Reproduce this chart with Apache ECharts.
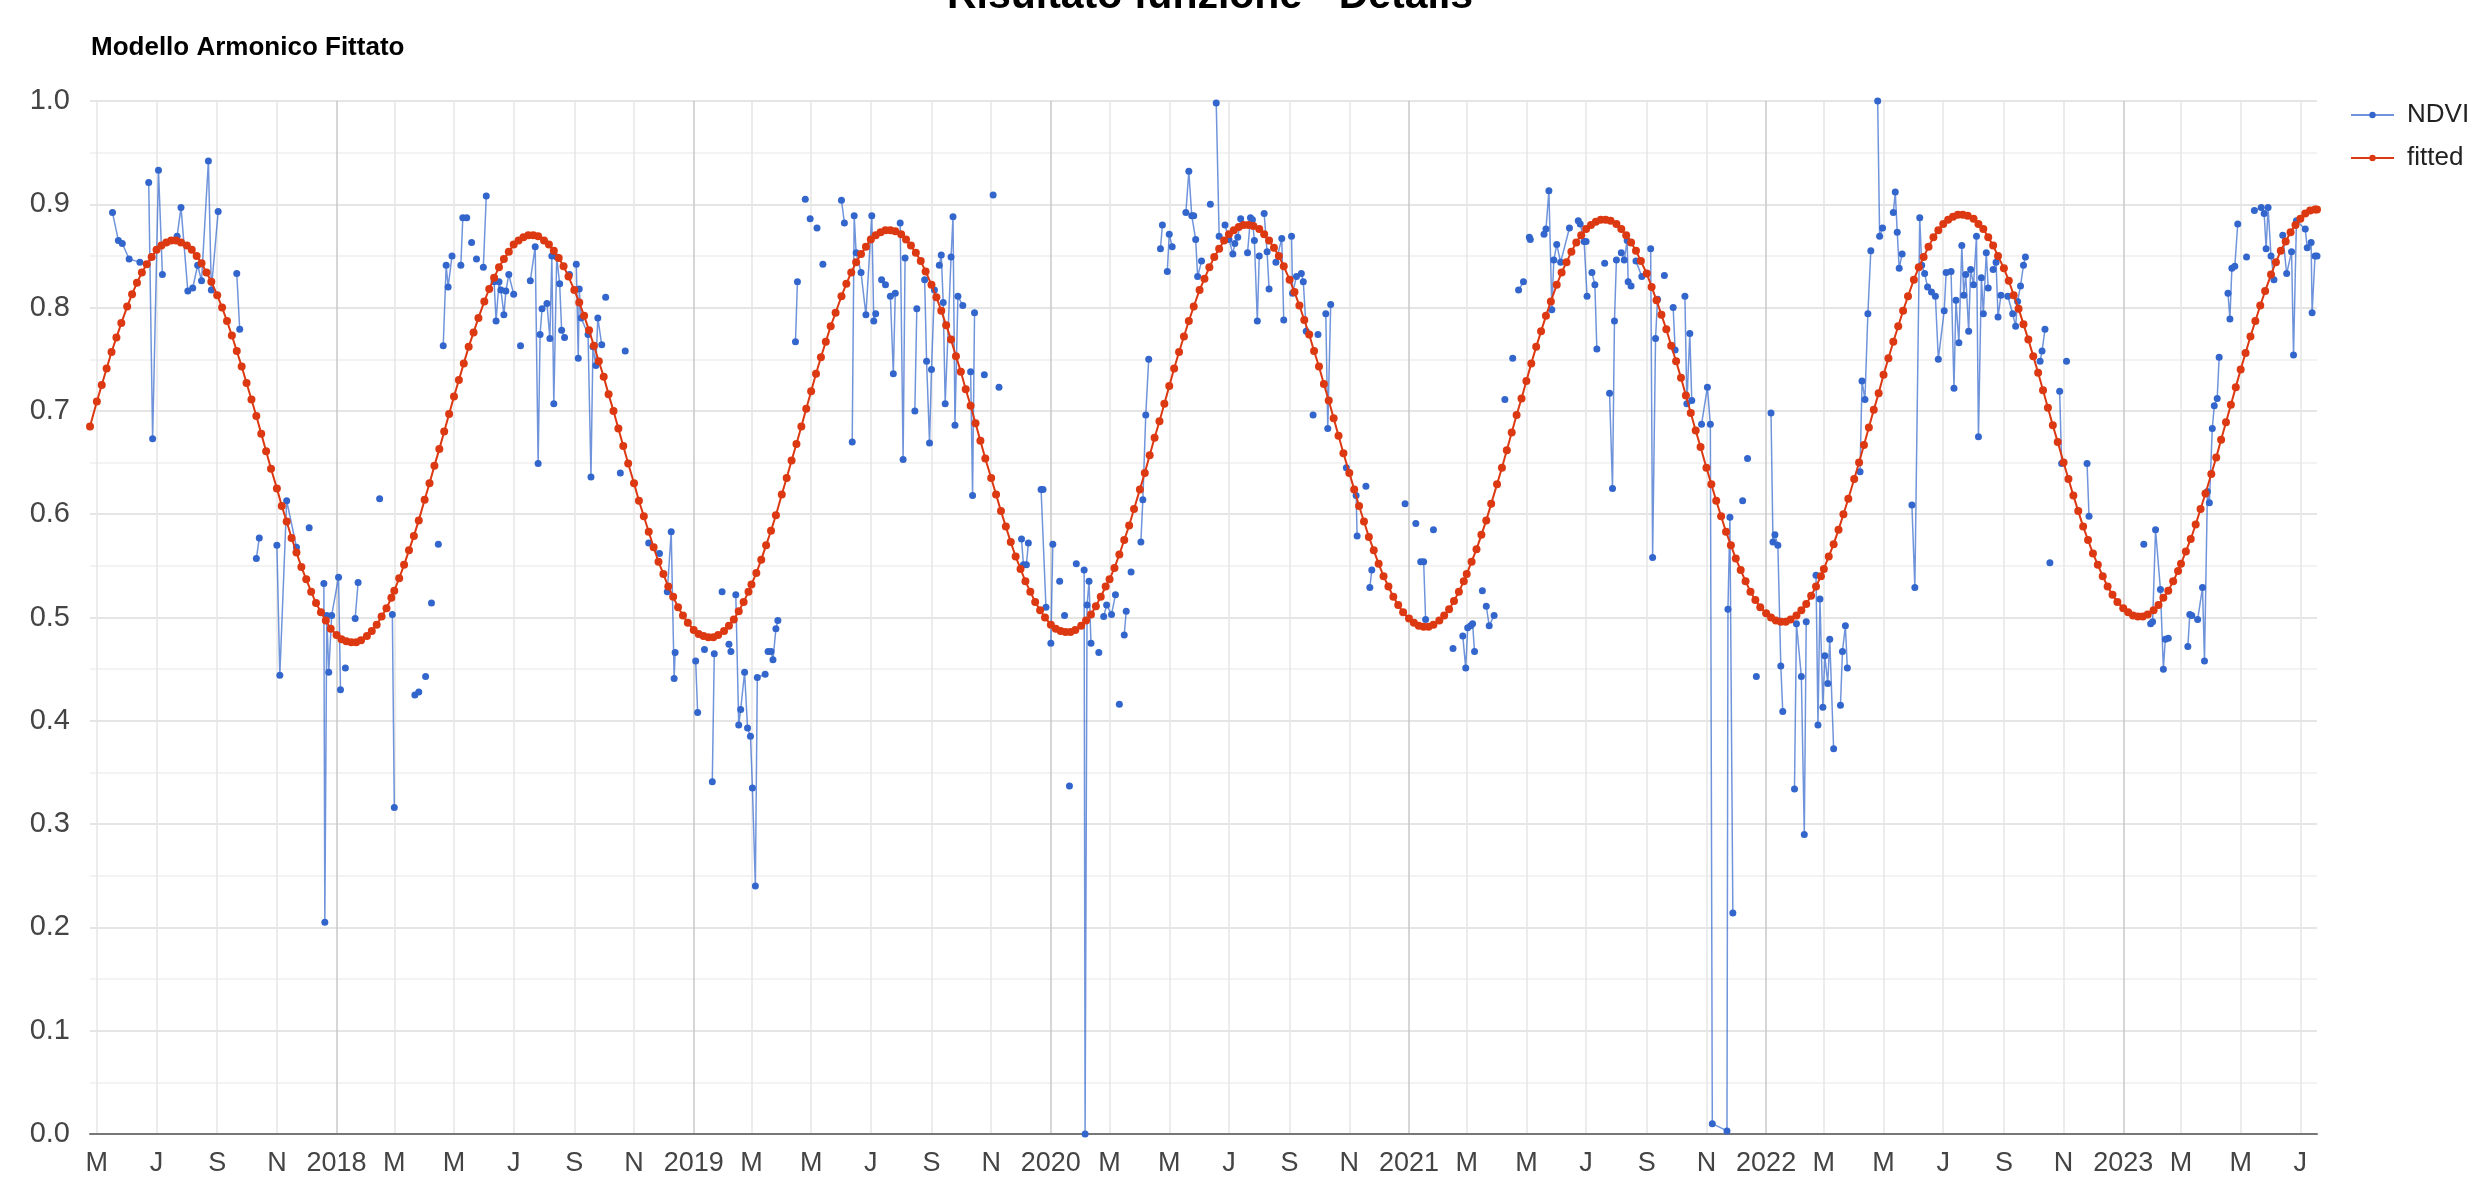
<!DOCTYPE html>
<html>
<head>
<meta charset="utf-8">
<title>Modello Armonico Fittato</title>
<script src="https://cdn.jsdelivr.net/npm/echarts@6/dist/echarts.min.js"></script>
<style>
  html, body { margin: 0; padding: 0; background: #fff; }
  #chart { width: 2468px; height: 1178px; }
</style>
</head>
<body>
<div id="chart"></div>
<script>
// tick positions along the time axis (every two months) and their labels
var tickDates = [
  '2017-05-01','2017-07-01','2017-09-01','2017-11-01',
  '2018-01-01','2018-03-01','2018-05-01','2018-07-01','2018-09-01','2018-11-01',
  '2019-01-01','2019-03-01','2019-05-01','2019-07-01','2019-09-01','2019-11-01',
  '2020-01-01','2020-03-01','2020-05-01','2020-07-01','2020-09-01','2020-11-01',
  '2021-01-01','2021-03-01','2021-05-01','2021-07-01','2021-09-01','2021-11-01',
  '2022-01-01','2022-03-01','2022-05-01','2022-07-01','2022-09-01','2022-11-01',
  '2023-01-01','2023-03-01','2023-05-01','2023-07-01'
];
var tickLabels = [
  'M','J','S','N',
  '2018','M','M','J','S','N',
  '2019','M','M','J','S','N',
  '2020','M','M','J','S','N',
  '2021','M','M','J','S','N',
  '2022','M','M','J','S','N',
  '2023','M','M','J'
];

// NDVI observations; null = gap (cloudy image, line breaks)
var ndviPoints = [
  ['2017-05-17',0.892],['2017-05-23',0.865],['2017-05-27',0.862],['2017-06-03',0.847],['2017-06-14',0.844], null,
  ['2017-06-23',0.921],['2017-06-27',0.673],['2017-07-03',0.933],['2017-07-07',0.832], null,
  ['2017-07-22',0.869],['2017-07-26',0.897],['2017-08-02',0.816],['2017-08-07',0.819],['2017-08-12',0.841],['2017-08-16',0.826],['2017-08-23',0.942],['2017-08-26',0.817],['2017-09-02',0.893], null,
  ['2017-09-21',0.833],['2017-09-24',0.779], null,
  ['2017-10-11',0.557],['2017-10-14',0.577], null,
  ['2017-11-01',0.570],['2017-11-04',0.444],['2017-11-11',0.613],['2017-11-21',0.568], null,
  ['2017-12-04',0.587], null,
  ['2017-12-19',0.533],['2017-12-20',0.205],['2017-12-22',0.502],['2017-12-24',0.447],['2017-12-27',0.502],['2018-01-03',0.539],['2018-01-05',0.430], null,
  ['2018-01-10',0.451], null,
  ['2018-01-20',0.499],['2018-01-23',0.534], null,
  ['2018-02-14',0.615], null,
  ['2018-02-27',0.503],['2018-03-01',0.316], null,
  ['2018-03-22',0.425],['2018-03-26',0.428], null,
  ['2018-04-02',0.443], null,
  ['2018-04-08',0.514], null,
  ['2018-04-15',0.571], null,
  ['2018-04-20',0.763],['2018-04-23',0.841],['2018-04-25',0.820],['2018-04-29',0.850], null,
  ['2018-05-08',0.841],['2018-05-10',0.887],['2018-05-14',0.887], null,
  ['2018-05-19',0.863], null,
  ['2018-05-24',0.847], null,
  ['2018-05-31',0.839],['2018-06-03',0.908], null,
  ['2018-06-11',0.825],['2018-06-13',0.787],['2018-06-16',0.825],['2018-06-18',0.817],['2018-06-21',0.793],['2018-06-23',0.816],['2018-06-26',0.832],['2018-07-01',0.813], null,
  ['2018-07-08',0.763], null,
  ['2018-07-18',0.826],['2018-07-23',0.859],['2018-07-26',0.649],['2018-07-28',0.774],['2018-07-30',0.799],['2018-08-04',0.804],['2018-08-07',0.770],['2018-08-09',0.850],['2018-08-11',0.707],['2018-08-14',0.849],['2018-08-17',0.823],['2018-08-19',0.778],['2018-08-22',0.771], null,
  ['2018-08-27',0.832], null,
  ['2018-09-03',0.842],['2018-09-05',0.751],['2018-09-06',0.818],['2018-09-08',0.790],['2018-09-15',0.774],['2018-09-18',0.636],['2018-09-20',0.762],['2018-09-23',0.744],['2018-09-25',0.790],['2018-09-29',0.764], null,
  ['2018-10-03',0.810], null,
  ['2018-10-18',0.640], null,
  ['2018-10-23',0.758], null,
  ['2018-11-16',0.572],['2018-11-27',0.562], null,
  ['2018-12-05',0.525],['2018-12-09',0.583],['2018-12-12',0.441],['2018-12-13',0.466], null,
  ['2019-01-03',0.458],['2019-01-05',0.408], null,
  ['2019-01-12',0.469], null,
  ['2019-01-20',0.341],['2019-01-22',0.465], null,
  ['2019-01-30',0.525], null,
  ['2019-02-06',0.474],['2019-02-08',0.467], null,
  ['2019-02-13',0.522],['2019-02-16',0.396],['2019-02-18',0.411],['2019-02-22',0.447],['2019-02-25',0.393],['2019-02-28',0.385],['2019-03-02',0.335],['2019-03-05',0.240],['2019-03-07',0.442],['2019-03-15',0.445], null,
  ['2019-03-18',0.467],['2019-03-21',0.467],['2019-03-23',0.459],['2019-03-26',0.489],['2019-03-28',0.497], null,
  ['2019-04-15',0.767],['2019-04-17',0.825], null,
  ['2019-04-25',0.905], null,
  ['2019-04-30',0.886], null,
  ['2019-05-07',0.877], null,
  ['2019-05-13',0.842], null,
  ['2019-06-01',0.904],['2019-06-04',0.882], null,
  ['2019-06-12',0.670],['2019-06-14',0.889],['2019-06-16',0.853],['2019-06-21',0.834],['2019-06-26',0.793],['2019-07-02',0.889],['2019-07-04',0.787],['2019-07-06',0.794], null,
  ['2019-07-12',0.827],['2019-07-16',0.822], null,
  ['2019-07-21',0.811],['2019-07-24',0.736],['2019-07-26',0.814], null,
  ['2019-07-31',0.882],['2019-08-03',0.653],['2019-08-05',0.848], null,
  ['2019-08-15',0.700],['2019-08-17',0.799], null,
  ['2019-08-25',0.827],['2019-08-27',0.748],['2019-08-30',0.669],['2019-09-01',0.740],['2019-09-04',0.817], null,
  ['2019-09-09',0.841],['2019-09-11',0.851],['2019-09-13',0.805],['2019-09-15',0.707],['2019-09-21',0.849],['2019-09-23',0.888],['2019-09-25',0.686],['2019-09-28',0.811],['2019-10-03',0.802], null,
  ['2019-10-11',0.738],['2019-10-13',0.618],['2019-10-15',0.795], null,
  ['2019-10-25',0.735], null,
  ['2019-11-03',0.909], null,
  ['2019-11-09',0.723], null,
  ['2019-12-02',0.576],['2019-12-04',0.551],['2019-12-07',0.551],['2019-12-09',0.572], null,
  ['2019-12-22',0.624],['2019-12-24',0.624],['2019-12-27',0.510], null,
  ['2020-01-01',0.475],['2020-01-03',0.571], null,
  ['2020-01-10',0.535], null,
  ['2020-01-15',0.502], null,
  ['2020-01-20',0.337], null,
  ['2020-01-27',0.552], null,
  ['2020-02-04',0.546],['2020-02-05',0.000],['2020-02-07',0.512],['2020-02-09',0.535],['2020-02-11',0.475], null,
  ['2020-02-19',0.466], null,
  ['2020-02-24',0.501],['2020-02-27',0.512],['2020-03-03',0.503],['2020-03-07',0.522], null,
  ['2020-03-11',0.416], null,
  ['2020-03-16',0.483],['2020-03-18',0.506], null,
  ['2020-03-23',0.544], null,
  ['2020-04-02',0.573],['2020-04-04',0.614],['2020-04-07',0.696],['2020-04-10',0.750], null,
  ['2020-04-22',0.857],['2020-04-24',0.880], null,
  ['2020-04-29',0.835],['2020-05-01',0.871],['2020-05-04',0.859], null,
  ['2020-05-18',0.892],['2020-05-21',0.932],['2020-05-24',0.889],['2020-05-26',0.889],['2020-05-28',0.866],['2020-05-30',0.830],['2020-06-03',0.845], null,
  ['2020-06-12',0.900], null,
  ['2020-06-18',0.998],['2020-06-21',0.869], null,
  ['2020-06-27',0.880],['2020-07-01',0.866],['2020-07-05',0.852],['2020-07-07',0.862],['2020-07-10',0.868],['2020-07-13',0.886], null,
  ['2020-07-20',0.853],['2020-07-23',0.887],['2020-07-25',0.885],['2020-07-27',0.865],['2020-07-30',0.787],['2020-08-01',0.850], null,
  ['2020-08-06',0.891],['2020-08-09',0.854],['2020-08-11',0.818], null,
  ['2020-08-18',0.844],['2020-08-24',0.867],['2020-08-26',0.788], null,
  ['2020-09-03',0.869],['2020-09-04',0.814],['2020-09-08',0.830],['2020-09-13',0.833],['2020-09-15',0.825],['2020-09-18',0.777], null,
  ['2020-09-25',0.696], null,
  ['2020-09-30',0.774], null,
  ['2020-10-08',0.794],['2020-10-10',0.683],['2020-10-13',0.803], null,
  ['2020-10-29',0.645], null,
  ['2020-11-08',0.618],['2020-11-09',0.579], null,
  ['2020-11-18',0.627], null,
  ['2020-11-22',0.529],['2020-11-24',0.546], null,
  ['2020-12-28',0.610], null,
  ['2021-01-08',0.591], null,
  ['2021-01-13',0.554],['2021-01-16',0.554],['2021-01-18',0.498], null,
  ['2021-01-26',0.585], null,
  ['2021-02-15',0.470], null,
  ['2021-02-25',0.482],['2021-02-28',0.451],['2021-03-02',0.490],['2021-03-05',0.492],['2021-03-07',0.494],['2021-03-09',0.467], null,
  ['2021-03-17',0.526], null,
  ['2021-03-21',0.511],['2021-03-24',0.492],['2021-03-29',0.502], null,
  ['2021-04-09',0.711], null,
  ['2021-04-17',0.751], null,
  ['2021-04-23',0.817],['2021-04-28',0.825], null,
  ['2021-05-04',0.868],['2021-05-05',0.866], null,
  ['2021-05-19',0.871],['2021-05-21',0.876],['2021-05-24',0.913],['2021-05-27',0.798],['2021-05-29',0.846],['2021-06-01',0.861],['2021-06-05',0.844],['2021-06-14',0.877], null,
  ['2021-06-23',0.884],['2021-06-25',0.881],['2021-06-29',0.864],['2021-07-01',0.864],['2021-07-02',0.811], null,
  ['2021-07-07',0.834],['2021-07-10',0.822],['2021-07-12',0.760], null,
  ['2021-07-20',0.843], null,
  ['2021-07-25',0.717],['2021-07-28',0.625],['2021-07-30',0.787],['2021-08-01',0.846], null,
  ['2021-08-06',0.853],['2021-08-09',0.846],['2021-08-12',0.865],['2021-08-13',0.825],['2021-08-16',0.821], null,
  ['2021-08-21',0.845],['2021-08-27',0.830], null,
  ['2021-09-05',0.857],['2021-09-07',0.558],['2021-09-10',0.770],['2021-09-12',0.808], null,
  ['2021-09-19',0.831], null,
  ['2021-09-28',0.800],['2021-09-30',0.759], null,
  ['2021-10-10',0.811],['2021-10-12',0.707],['2021-10-15',0.775],['2021-10-17',0.710], null,
  ['2021-10-27',0.687],['2021-11-02',0.723],['2021-11-05',0.687],['2021-11-07',0.010],['2021-11-22',0.003],['2021-11-23',0.508],['2021-11-25',0.597],['2021-11-28',0.214], null,
  ['2021-12-08',0.613], null,
  ['2021-12-13',0.654], null,
  ['2021-12-22',0.443], null,
  ['2022-01-06',0.698],['2022-01-08',0.573],['2022-01-10',0.580],['2022-01-13',0.570],['2022-01-16',0.453],['2022-01-18',0.409], null,
  ['2022-01-30',0.334],['2022-02-01',0.494],['2022-02-06',0.443],['2022-02-09',0.290],['2022-02-11',0.496], null,
  ['2022-02-21',0.541],['2022-02-23',0.396],['2022-02-25',0.518],['2022-02-28',0.413],['2022-03-02',0.463],['2022-03-05',0.436],['2022-03-07',0.479],['2022-03-11',0.373], null,
  ['2022-03-18',0.415],['2022-03-20',0.467],['2022-03-23',0.492],['2022-03-25',0.451], null,
  ['2022-04-07',0.641],['2022-04-09',0.729],['2022-04-12',0.711],['2022-04-15',0.794],['2022-04-18',0.855], null,
  ['2022-04-25',1.000],['2022-04-27',0.869],['2022-04-30',0.877], null,
  ['2022-05-11',0.892],['2022-05-13',0.912],['2022-05-15',0.873],['2022-05-17',0.838],['2022-05-20',0.852], null,
  ['2022-05-30',0.609],['2022-06-02',0.529],['2022-06-07',0.887],['2022-06-09',0.841],['2022-06-12',0.833],['2022-06-15',0.820],['2022-06-19',0.815],['2022-06-23',0.811],['2022-06-26',0.750],['2022-07-02',0.797],['2022-07-04',0.834],['2022-07-09',0.835],['2022-07-12',0.722],['2022-07-14',0.807],['2022-07-17',0.766],['2022-07-20',0.860],['2022-07-22',0.812],['2022-07-24',0.832],['2022-07-27',0.777],['2022-07-29',0.837],['2022-08-01',0.822],['2022-08-04',0.869],['2022-08-06',0.675],['2022-08-09',0.829],['2022-08-11',0.794],['2022-08-14',0.853],['2022-08-16',0.819], null,
  ['2022-08-21',0.837],['2022-08-24',0.844],['2022-08-26',0.791],['2022-08-29',0.812], null,
  ['2022-09-05',0.811],['2022-09-10',0.794],['2022-09-13',0.782],['2022-09-15',0.806],['2022-09-18',0.821],['2022-09-21',0.841],['2022-09-23',0.849], null,
  ['2022-10-08',0.748],['2022-10-10',0.758],['2022-10-13',0.779], null,
  ['2022-10-18',0.553], null,
  ['2022-10-28',0.719],['2022-10-30',0.649], null,
  ['2022-11-04',0.748], null,
  ['2022-11-25',0.649],['2022-11-27',0.598], null,
  ['2023-01-22',0.571], null,
  ['2023-01-29',0.494],['2023-01-31',0.496],['2023-02-03',0.585],['2023-02-08',0.527],['2023-02-11',0.450],['2023-02-13',0.479],['2023-02-16',0.480], null,
  ['2023-03-08',0.472],['2023-03-10',0.503],['2023-03-12',0.502],['2023-03-18',0.498],['2023-03-23',0.529],['2023-03-25',0.458],['2023-03-28',0.622],['2023-03-30',0.611],['2023-04-02',0.683],['2023-04-04',0.705],['2023-04-07',0.712],['2023-04-09',0.752], null,
  ['2023-04-18',0.814],['2023-04-20',0.789],['2023-04-22',0.838],['2023-04-25',0.840],['2023-04-28',0.881], null,
  ['2023-05-07',0.849], null,
  ['2023-05-15',0.894],['2023-05-22',0.897],['2023-05-25',0.891],['2023-05-27',0.857],['2023-05-29',0.897],['2023-06-01',0.850],['2023-06-04',0.827], null,
  ['2023-06-13',0.870],['2023-06-17',0.833],['2023-06-22',0.854],['2023-06-24',0.754],['2023-06-27',0.884],['2023-07-06',0.876],['2023-07-08',0.858],['2023-07-12',0.863],['2023-07-13',0.795],['2023-07-16',0.850],['2023-07-18',0.850]
];

// fitted harmonic model: month, then values on days 1, 6, 11, 16, 21, 26
var fitDays = ['01', '06', '11', '16', '21', '26'];
var fittedRows = [
  ['2017-05',0.709,0.725,0.741,0.757,0.771,0.785],
  ['2017-06',0.801,0.813,0.824,0.834,0.842,0.849],
  ['2017-07',0.856,0.860,0.863,0.865,0.865,0.863],
  ['2017-08',0.860,0.856,0.850,0.843,0.834,0.825],
  ['2017-09',0.812,0.800,0.787,0.773,0.758,0.743],
  ['2017-10',0.727,0.711,0.695,0.678,0.661,0.644],
  ['2017-11',0.625,0.608,0.593,0.577,0.563,0.549],
  ['2017-12',0.537,0.525,0.514,0.505,0.497,0.489],
  ['2018-01',0.483,0.479,0.477,0.476,0.476,0.478],
  ['2018-02',0.482,0.487,0.493,0.501,0.509,0.519],
  ['2018-03',0.526,0.538,0.551,0.565,0.579,0.594],
  ['2018-04',0.614,0.630,0.647,0.663,0.680,0.697],
  ['2018-05',0.714,0.730,0.746,0.762,0.776,0.790],
  ['2018-06',0.806,0.818,0.829,0.839,0.847,0.854],
  ['2018-07',0.861,0.865,0.868,0.870,0.870,0.869],
  ['2018-08',0.865,0.861,0.855,0.848,0.840,0.830],
  ['2018-09',0.817,0.805,0.792,0.778,0.763,0.748],
  ['2018-10',0.733,0.716,0.700,0.683,0.666,0.649],
  ['2018-11',0.630,0.613,0.598,0.583,0.568,0.554],
  ['2018-12',0.542,0.530,0.520,0.510,0.502,0.495],
  ['2019-01',0.488,0.484,0.482,0.481,0.481,0.483],
  ['2019-02',0.487,0.492,0.498,0.506,0.515,0.525],
  ['2019-03',0.532,0.543,0.556,0.570,0.584,0.599],
  ['2019-04',0.619,0.635,0.652,0.668,0.685,0.702],
  ['2019-05',0.719,0.736,0.752,0.767,0.782,0.795],
  ['2019-06',0.811,0.823,0.834,0.844,0.852,0.859],
  ['2019-07',0.866,0.870,0.873,0.875,0.875,0.874],
  ['2019-08',0.871,0.866,0.860,0.853,0.845,0.835],
  ['2019-09',0.822,0.810,0.797,0.783,0.769,0.753],
  ['2019-10',0.738,0.721,0.705,0.688,0.671,0.654],
  ['2019-11',0.635,0.619,0.603,0.588,0.573,0.559],
  ['2019-12',0.547,0.535,0.525,0.515,0.507,0.500],
  ['2020-01',0.493,0.489,0.487,0.486,0.486,0.488],
  ['2020-02',0.492,0.497,0.503,0.511,0.520,0.530],
  ['2020-03',0.537,0.548,0.561,0.575,0.589,0.605],
  ['2020-04',0.624,0.640,0.657,0.674,0.690,0.707],
  ['2020-05',0.724,0.741,0.757,0.772,0.787,0.801],
  ['2020-06',0.817,0.828,0.839,0.849,0.857,0.865],
  ['2020-07',0.871,0.875,0.878,0.880,0.880,0.879],
  ['2020-08',0.876,0.871,0.865,0.858,0.850,0.840],
  ['2020-09',0.827,0.815,0.802,0.788,0.774,0.758],
  ['2020-10',0.743,0.726,0.710,0.693,0.676,0.659],
  ['2020-11',0.640,0.624,0.608,0.593,0.578,0.565],
  ['2020-12',0.552,0.540,0.530,0.520,0.512,0.505],
  ['2021-01',0.499,0.495,0.492,0.491,0.491,0.493],
  ['2021-02',0.497,0.502,0.508,0.516,0.525,0.535],
  ['2021-03',0.542,0.554,0.566,0.580,0.594,0.610],
  ['2021-04',0.629,0.645,0.662,0.679,0.696,0.712],
  ['2021-05',0.729,0.746,0.762,0.777,0.792,0.806],
  ['2021-06',0.822,0.834,0.844,0.854,0.863,0.870],
  ['2021-07',0.876,0.880,0.883,0.885,0.885,0.884],
  ['2021-08',0.881,0.876,0.870,0.863,0.855,0.845],
  ['2021-09',0.833,0.820,0.807,0.793,0.779,0.763],
  ['2021-10',0.748,0.732,0.715,0.698,0.681,0.665],
  ['2021-11',0.645,0.629,0.613,0.598,0.583,0.570],
  ['2021-12',0.557,0.546,0.535,0.525,0.517,0.510],
  ['2022-01',0.504,0.500,0.497,0.496,0.496,0.498],
  ['2022-02',0.502,0.507,0.513,0.521,0.530,0.540],
  ['2022-03',0.547,0.559,0.571,0.585,0.600,0.615],
  ['2022-04',0.634,0.650,0.667,0.684,0.701,0.717],
  ['2022-05',0.735,0.751,0.767,0.782,0.797,0.811],
  ['2022-06',0.827,0.839,0.849,0.859,0.868,0.875],
  ['2022-07',0.881,0.885,0.888,0.890,0.890,0.889],
  ['2022-08',0.886,0.881,0.876,0.868,0.860,0.850],
  ['2022-09',0.838,0.826,0.812,0.799,0.784,0.769],
  ['2022-10',0.753,0.737,0.720,0.703,0.686,0.670],
  ['2022-11',0.650,0.634,0.618,0.603,0.588,0.575],
  ['2022-12',0.562,0.551,0.540,0.530,0.522,0.515],
  ['2023-01',0.509,0.505,0.502,0.501,0.501,0.503],
  ['2023-02',0.507,0.512,0.519,0.526,0.535,0.545],
  ['2023-03',0.552,0.564,0.576,0.590,0.605,0.620],
  ['2023-04',0.639,0.655,0.672,0.689,0.706,0.723],
  ['2023-05',0.740,0.756,0.772,0.787,0.802,0.816],
  ['2023-06',0.832,0.844,0.855,0.864,0.873,0.880],
  ['2023-07',0.886,0.891,0.894,0.895]
];
// first and last fitted points that fall outside the day grid
var fitFirst = ['2017-04-24', 0.685];
var fitLast = ['2023-07-18', 0.895];

var xMin = '2017-04-24';
var xMax = '2023-07-18';

// ---- helpers ----
// 'YYYY-MM-DD' -> local timestamp (value axis works in ms)
function ts(s) {
  var p = s.split('-');
  return new Date(+p[0], +p[1] - 1, +p[2]).getTime();
}

var ndviData = ndviPoints.map(function (p) { return p ? [ts(p[0]), p[1]] : [NaN, NaN]; });

var fittedData = [[ts(fitFirst[0]), fitFirst[1]]];
fittedRows.forEach(function (row) {
  for (var j = 1; j < row.length; j++) {
    fittedData.push([ts(row[0] + '-' + fitDays[j - 1]), row[j]]);
  }
});
fittedData.push([ts(fitLast[0]), fitLast[1]]);

var tickValues = tickDates.map(ts);
var labelByTime = {};
tickValues.forEach(function (t, i) { labelByTime[t] = tickLabels[i]; });

// year lines a bit darker than the month lines (May, Jul, Sep, Nov, Jan, Mar)
var vGridColors = ['#e6e6e6', '#e6e6e6', '#e6e6e6', '#e6e6e6', '#c8c8c8', '#e6e6e6'];

var chart = echarts.init(document.getElementById('chart'));
chart.setOption({
  animation: false,
  backgroundColor: '#fff',
  textStyle: { fontFamily: 'Liberation Sans, Arial, sans-serif' },
  title: {
    text: 'Modello Armonico Fittato',
    left: 86,
    top: 30,
    textStyle: { fontSize: 26, fontWeight: 'bold', color: '#000', fontFamily: 'Liberation Sans, Arial, sans-serif' }
  },
  graphic: [{
    type: 'text',
    silent: true,
    style: {
      text: 'Risultato funzione - Details',
      x: 1210,
      y: 17,
      align: 'center',
      verticalAlign: 'bottom',
      fontSize: 41,
      fontWeight: 'bold',
      fontFamily: 'Liberation Sans, Arial, sans-serif',
      fill: '#000'
    }
  }],
  legend: {
    orient: 'vertical',
    left: 2345,
    top: 97,
    itemWidth: 43,
    itemHeight: 8,
    itemGap: 17,
    textStyle: { fontSize: 26, color: '#222', padding: [0, 0, 0, 8] },
    data: ['NDVI', 'fitted']
  },
  grid: { left: 90, right: 151, top: 101, bottom: 44 },
  xAxis: {
    type: 'value',
    min: ts(xMin),
    max: ts(xMax),
    axisLine: { show: true, onZero: false, lineStyle: { color: '#777', width: 2 } },
    axisTick: { show: false, customValues: tickValues },
    axisLabel: {
      customValues: tickValues,
      formatter: function (v) { return labelByTime[v] || ''; },
      fontSize: 27,
      color: '#444',
      margin: 16
    },
    splitLine: { show: true, lineStyle: { color: vGridColors, width: 1.5 } }
  },
  yAxis: {
    type: 'value',
    min: 0,
    max: 1,
    interval: 0.1,
    axisLine: { show: false },
    axisTick: { show: false },
    axisLabel: {
      formatter: function (v) { return v.toFixed(1); },
      fontSize: 29,
      color: '#444',
      margin: 20
    },
    splitLine: { lineStyle: { color: '#dcdcdc', width: 1.5 } },
    minorTick: { show: false, splitNumber: 2 },
    minorSplitLine: { show: true, lineStyle: { color: '#efefef', width: 1.5 } }
  },
  series: [
    {
      name: 'NDVI',
      type: 'line',
      data: ndviData,
      connectNulls: false,
      symbol: 'circle',
      symbolSize: 7,
      itemStyle: { color: '#3366cc' },
      lineStyle: { width: 1.5, color: 'rgba(51,102,204,0.7)' },
      z: 2
    },
    {
      name: 'fitted',
      type: 'line',
      data: fittedData,
      symbol: 'circle',
      symbolSize: 8,
      itemStyle: { color: '#dc3912' },
      lineStyle: { width: 2, color: '#dc3912' },
      z: 3
    }
  ]
});
</script>
</body>
</html>
